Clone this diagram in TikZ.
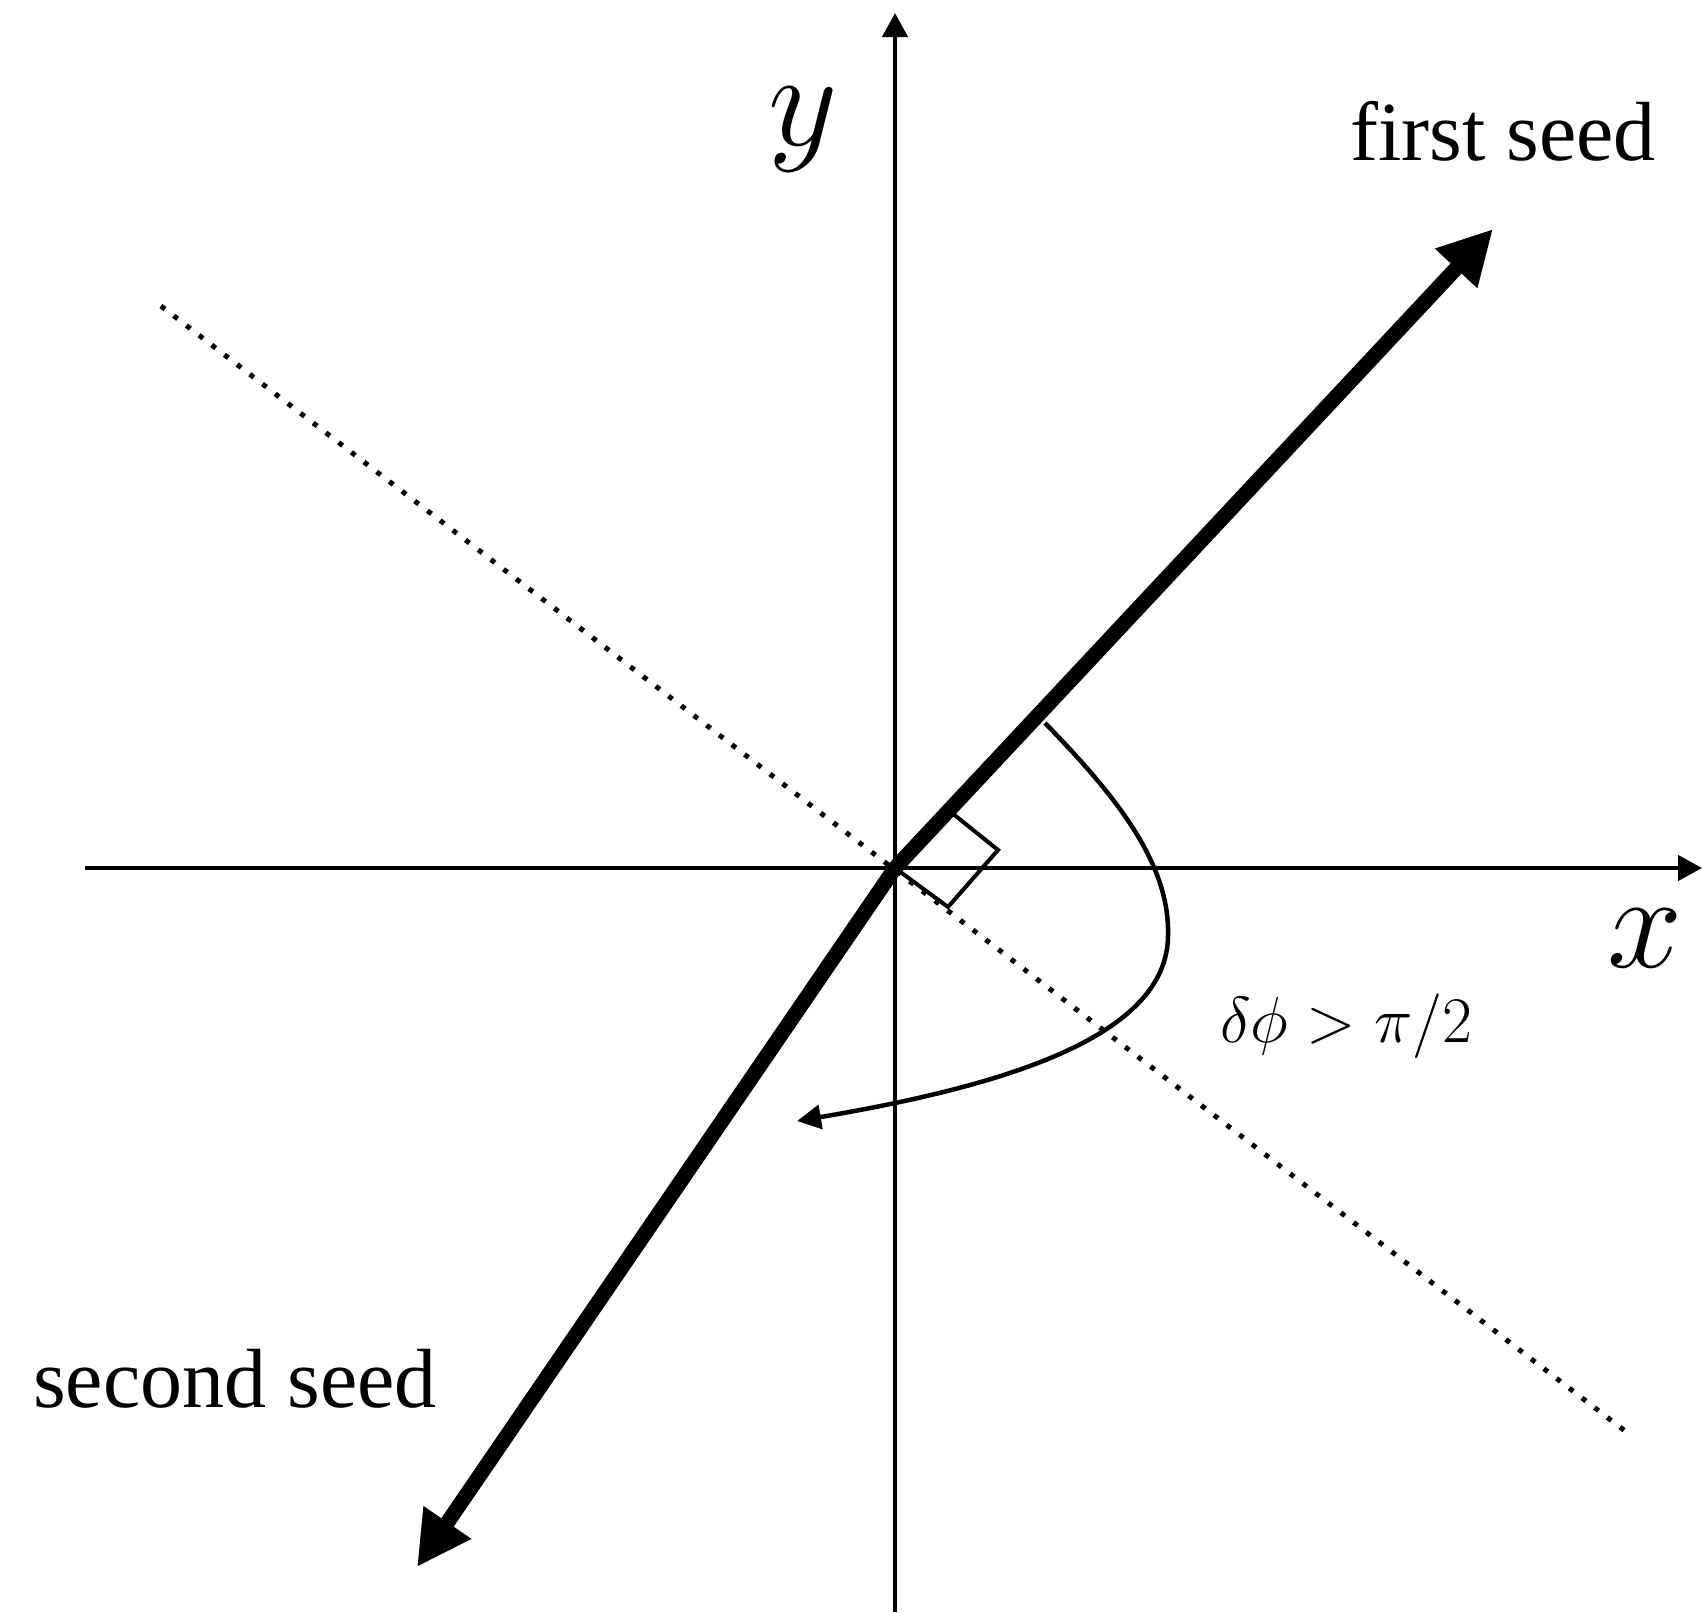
\RequirePackage{fix-cm}
\documentclass[tikz,border=0pt]{standalone}
\usepackage{fontspec}
\setmainfont{Liberation Serif}
\usetikzlibrary{arrows.meta}
\begin{document}
\begin{tikzpicture}[x=1pt,y=-1pt,
  axisline/.style={line width=4.5pt,-{Triangle[length=24pt,width=25pt]}},
  seedline/.style={line width=15pt,line join=miter,
    {Triangle[length=54pt,width=54pt]}-{Triangle[length=54pt,width=54pt]}},
  dotline/.style={line width=5pt,dash pattern=on 5pt off 11pt},
  anglecurve/.style={line width=4.5pt,-{Triangle[length=24pt,width=24pt]}},
  marker/.style={line width=4pt,line join=miter},
  seedlabel/.style={inner sep=0pt,anchor=base west,font=\fontsize{84}{100}\selectfont},
  axislabel/.style={inner sep=0pt,anchor=base,font=\fontsize{135}{160}\selectfont},
  anglelabel/.style={inner sep=0pt,anchor=base west,font=\fontsize{65}{78}\selectfont}]
\useasboundingbox (0,0) rectangle (1702,1612);
% coordinates
\coordinate (O) at (895,868);
\coordinate (XL) at (85,868);
\coordinate (XR) at (1702,868);
\coordinate (YB) at (895,1612);
\coordinate (YT) at (895,13);
\coordinate (A) at (1493,229);
\coordinate (B) at (417,1567);
\coordinate (D1) at (161,306);
\coordinate (D2) at (1625,1431);
\coordinate (M1) at (952,813);
\coordinate (M2) at (998,850);
\coordinate (M3) at (948,907);
\coordinate (C0) at (1045,723);
\coordinate (C1) at (1168,935);
\coordinate (C2) at (797,1121);
% dotted line
\draw[dotline] (D1) -- (D2);
% axes
\draw[axisline] (XL) -- (XR);
\draw[axisline] (YB) -- (YT);
% right angle marker
\draw[marker] (M1) -- (M2) -- (M3) -- (O);
% seeds
\draw[seedline] (B) -- (O) -- (A);
% angle curve
\draw[anglecurve] (C0) .. controls (1110,790) and (1170,860) .. (C1)
  .. controls (1168,1035) and (1010,1085) .. (C2);
% labels
\node[seedlabel] (first) at (1350,160) {first seed};
\node[seedlabel] (second) at (33,1407) {second seed};
\node[axislabel] (xlab) at (1645,967) {$x$};
\node[axislabel] (ylab) at (803,145) {$y$};
\node[anglelabel] (dphi) at (1220,1042) {$\delta\phi > \pi/2$};
\end{tikzpicture}
\end{document}
